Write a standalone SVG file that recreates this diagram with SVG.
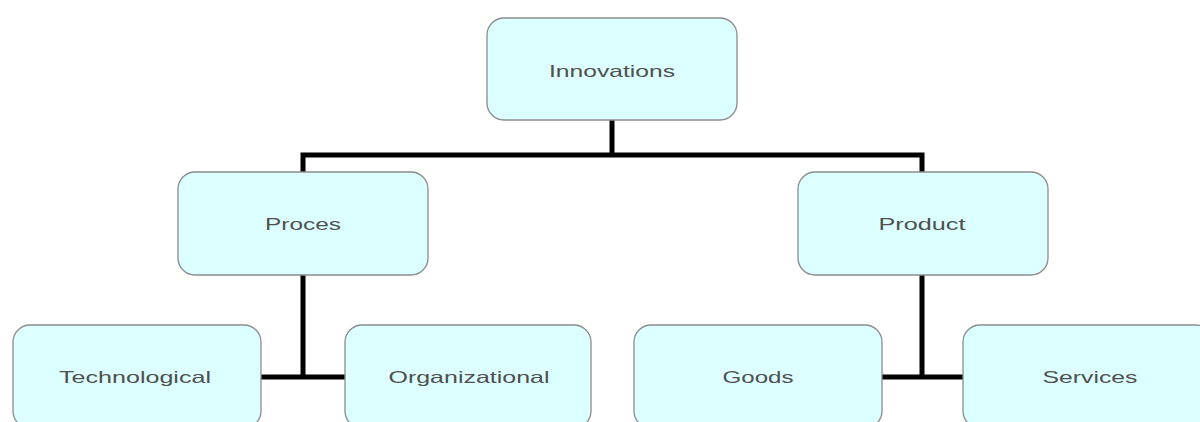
<svg xmlns="http://www.w3.org/2000/svg" width="1200" height="422" viewBox="0 0 1200 422">
<style>
.box{fill:#dcffff;stroke:#8c8c8c;stroke-width:1.3}
.lbl{font-family:"Liberation Sans",Arial,sans-serif;font-size:16.5px;fill:#505050;text-anchor:middle}
.conn{fill:none;stroke:#000;stroke-width:5}
</style>
<rect width="1200" height="422" fill="#fff"/>
<g id="connectors">
<path class="conn" d="M612,120 V155 M300.5,155 H924.5 M303,155 V172 M922,155 V172"/>
<path class="conn" d="M303,275 V377 M261,377 H345"/>
<path class="conn" d="M922,275 V377 M882,377 H963"/>
</g>
<g id="innovations"><rect class="box" x="487" y="18" width="250" height="102" rx="17"/><text class="lbl" x="612" y="77" textLength="126" lengthAdjust="spacingAndGlyphs">Innovations</text></g>
<g id="proces"><rect class="box" x="178" y="172" width="250" height="103" rx="17"/><text class="lbl" x="303" y="230" textLength="76" lengthAdjust="spacingAndGlyphs">Proces</text></g>
<g id="product"><rect class="box" x="798" y="172" width="250" height="103" rx="17"/><text class="lbl" x="922" y="230" textLength="87" lengthAdjust="spacingAndGlyphs">Product</text></g>
<g id="technological"><rect class="box" x="13" y="325" width="248" height="103" rx="17"/><text class="lbl" x="135" y="383" textLength="152" lengthAdjust="spacingAndGlyphs">Technological</text></g>
<g id="organizational"><rect class="box" x="345" y="325" width="246" height="103" rx="17"/><text class="lbl" x="469" y="383" textLength="161" lengthAdjust="spacingAndGlyphs">Organizational</text></g>
<g id="goods"><rect class="box" x="634" y="325" width="248" height="103" rx="17"/><text class="lbl" x="758" y="383" textLength="71" lengthAdjust="spacingAndGlyphs">Goods</text></g>
<g id="services"><rect class="box" x="963" y="325" width="250" height="103" rx="17"/><text class="lbl" x="1090" y="383" textLength="95" lengthAdjust="spacingAndGlyphs">Services</text></g>
</svg>
